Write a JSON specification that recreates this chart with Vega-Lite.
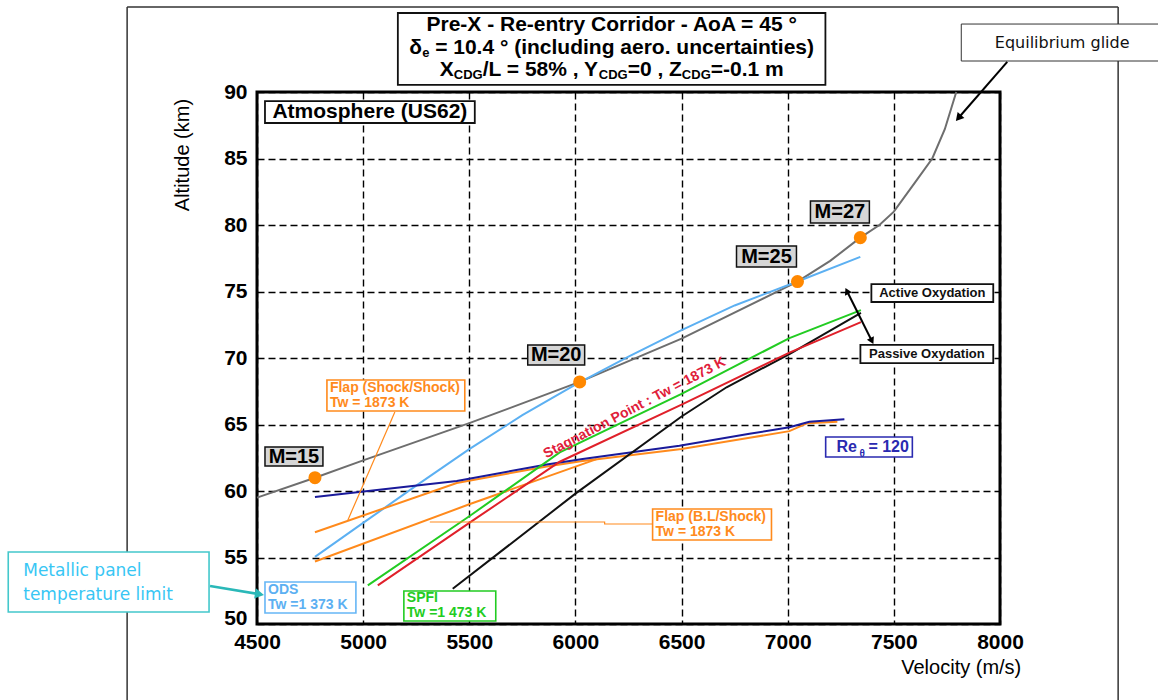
{
  "$schema": "https://vega.github.io/schema/vega-lite/v6.json",
  "width": 743,
  "height": 532,
  "autosize": {"type": "none"},
  "padding": {"left": 257, "top": 92, "right": 158, "bottom": 76},
  "background": "white",
  "config": {
    "view": {"stroke": "#000", "strokeWidth": 3},
    "text": {"font": "Liberation Sans"}
  },
  "datasets": {
    "series": [
      {"s": "glide", "c": "glide", "o": 1, "v": 4500, "alt": 59.5},
      {"s": "glide", "c": "glide", "o": 2, "v": 4773, "alt": 61.0},
      {"s": "glide", "c": "glide", "o": 3, "v": 5000, "alt": 62.3},
      {"s": "glide", "c": "glide", "o": 4, "v": 5500, "alt": 65.1},
      {"s": "glide", "c": "glide", "o": 5, "v": 6020, "alt": 68.2},
      {"s": "glide", "c": "glide", "o": 6, "v": 6500, "alt": 71.45},
      {"s": "glide", "c": "glide", "o": 7, "v": 7046, "alt": 75.75},
      {"s": "glide", "c": "glide", "o": 8, "v": 7200, "alt": 77.3},
      {"s": "glide", "c": "glide", "o": 9, "v": 7342, "alt": 79.05},
      {"s": "glide", "c": "glide", "o": 10, "v": 7432, "alt": 80.0},
      {"s": "glide", "c": "glide", "o": 11, "v": 7500, "alt": 81.0},
      {"s": "glide", "c": "glide", "o": 12, "v": 7600, "alt": 83.2},
      {"s": "glide", "c": "glide", "o": 13, "v": 7681, "alt": 85.0},
      {"s": "glide", "c": "glide", "o": 14, "v": 7740, "alt": 87.2},
      {"s": "glide", "c": "glide", "o": 15, "v": 7794, "alt": 90.0},
      {"s": "ods", "c": "ods", "o": 1, "v": 4773, "alt": 55.05},
      {"s": "ods", "c": "ods", "o": 2, "v": 5000, "alt": 57.6},
      {"s": "ods", "c": "ods", "o": 3, "v": 5250, "alt": 60.4},
      {"s": "ods", "c": "ods", "o": 4, "v": 5500, "alt": 63.15},
      {"s": "ods", "c": "ods", "o": 5, "v": 5750, "alt": 65.7},
      {"s": "ods", "c": "ods", "o": 6, "v": 6000, "alt": 68.0},
      {"s": "ods", "c": "ods", "o": 7, "v": 6250, "alt": 70.1},
      {"s": "ods", "c": "ods", "o": 8, "v": 6500, "alt": 72.1},
      {"s": "ods", "c": "ods", "o": 9, "v": 6750, "alt": 73.95},
      {"s": "ods", "c": "ods", "o": 10, "v": 7046, "alt": 75.75},
      {"s": "ods", "c": "ods", "o": 11, "v": 7342, "alt": 77.6},
      {"s": "flapA", "c": "flap", "o": 1, "v": 4773, "alt": 56.9},
      {"s": "flapA", "c": "flap", "o": 2, "v": 5441, "alt": 60.6},
      {"s": "flapA", "c": "flap", "o": 3, "v": 5865, "alt": 61.85},
      {"s": "flapA", "c": "flap", "o": 4, "v": 6034, "alt": 62.25},
      {"s": "flapA", "c": "flap", "o": 5, "v": 6500, "alt": 63.15},
      {"s": "flapA", "c": "flap", "o": 6, "v": 6820, "alt": 64.0},
      {"s": "flapA", "c": "flap", "o": 7, "v": 7008, "alt": 64.5},
      {"s": "flapA", "c": "flap", "o": 8, "v": 7093, "alt": 65.1},
      {"s": "flapA", "c": "flap", "o": 9, "v": 7234, "alt": 65.2},
      {"s": "flapB", "c": "flap", "o": 1, "v": 4773, "alt": 54.7},
      {"s": "flapB", "c": "flap", "o": 2, "v": 5500, "alt": 59.0},
      {"s": "flapB", "c": "flap", "o": 3, "v": 6100, "alt": 62.4},
      {"s": "re", "c": "re", "o": 1, "v": 4773, "alt": 59.55},
      {"s": "re", "c": "re", "o": 2, "v": 5441, "alt": 60.75},
      {"s": "re", "c": "re", "o": 3, "v": 5865, "alt": 62.0},
      {"s": "re", "c": "re", "o": 4, "v": 6034, "alt": 62.4},
      {"s": "re", "c": "re", "o": 5, "v": 6490, "alt": 63.4},
      {"s": "re", "c": "re", "o": 6, "v": 6820, "alt": 64.3},
      {"s": "re", "c": "re", "o": 7, "v": 7008, "alt": 64.8},
      {"s": "re", "c": "re", "o": 8, "v": 7102, "alt": 65.2},
      {"s": "re", "c": "re", "o": 9, "v": 7267, "alt": 65.4},
      {"s": "blk", "c": "blk", "o": 1, "v": 5422, "alt": 52.65},
      {"s": "blk", "c": "blk", "o": 2, "v": 6000, "alt": 59.8},
      {"s": "blk", "c": "blk", "o": 3, "v": 6500, "alt": 65.6},
      {"s": "blk", "c": "blk", "o": 4, "v": 6712, "alt": 67.8},
      {"s": "blk", "c": "blk", "o": 5, "v": 7008, "alt": 70.3},
      {"s": "blk", "c": "blk", "o": 6, "v": 7345, "alt": 73.4},
      {"s": "stag", "c": "stag", "o": 1, "v": 5069, "alt": 52.9},
      {"s": "stag", "c": "stag", "o": 2, "v": 5500, "alt": 57.6},
      {"s": "stag", "c": "stag", "o": 3, "v": 5926, "alt": 62.2},
      {"s": "stag", "c": "stag", "o": 4, "v": 6500, "alt": 66.5},
      {"s": "stag", "c": "stag", "o": 5, "v": 7008, "alt": 70.4},
      {"s": "stag", "c": "stag", "o": 6, "v": 7345, "alt": 72.7},
      {"s": "spfi", "c": "spfi", "o": 1, "v": 5022, "alt": 52.9},
      {"s": "spfi", "c": "spfi", "o": 2, "v": 5500, "alt": 58.1},
      {"s": "spfi", "c": "spfi", "o": 3, "v": 5926, "alt": 62.9},
      {"s": "spfi", "c": "spfi", "o": 4, "v": 6500, "alt": 67.3},
      {"s": "spfi", "c": "spfi", "o": 5, "v": 7008, "alt": 71.5},
      {"s": "spfi", "c": "spfi", "o": 6, "v": 7345, "alt": 73.6}
    ],
    "callouts": [
      {"s": "a", "o": 1, "v": 5149.4, "alt": 65.94},
      {"s": "a", "o": 2, "v": 4928.2, "alt": 57.82},
      {"s": "b", "o": 1, "v": 5314.1, "alt": 57.67},
      {"s": "b", "o": 2, "v": 6137.6, "alt": 57.67},
      {"s": "b", "o": 3, "v": 6137.6, "alt": 57.52},
      {"s": "b", "o": 4, "v": 6363.5, "alt": 57.52}
    ],
    "dots": [
      {"m": "M=15", "v": 4773, "alt": 61.0},
      {"m": "M=20", "v": 6020, "alt": 68.2},
      {"m": "M=25", "v": 7046, "alt": 75.75},
      {"m": "M=27", "v": 7342, "alt": 79.05}
    ],
    "xMinor": [
      {"v": 4600}, {"v": 4700}, {"v": 4800}, {"v": 4900},
      {"v": 5100}, {"v": 5200}, {"v": 5300}, {"v": 5400},
      {"v": 5600}, {"v": 5700}, {"v": 5800}, {"v": 5900},
      {"v": 6100}, {"v": 6200}, {"v": 6300}, {"v": 6400},
      {"v": 6600}, {"v": 6700}, {"v": 6800}, {"v": 6900},
      {"v": 7100}, {"v": 7200}, {"v": 7300}, {"v": 7400},
      {"v": 7600}, {"v": 7700}, {"v": 7800}, {"v": 7900}
    ],
    "xMajor": [
      {"v": 5000}, {"v": 5500}, {"v": 6000}, {"v": 6500}, {"v": 7000}, {"v": 7500}
    ],
    "yMinor": [
      {"alt": 51}, {"alt": 52}, {"alt": 53}, {"alt": 54},
      {"alt": 56}, {"alt": 57}, {"alt": 58}, {"alt": 59},
      {"alt": 61}, {"alt": 62}, {"alt": 63}, {"alt": 64},
      {"alt": 66}, {"alt": 67}, {"alt": 68}, {"alt": 69},
      {"alt": 71}, {"alt": 72}, {"alt": 73}, {"alt": 74},
      {"alt": 76}, {"alt": 77}, {"alt": 78}, {"alt": 79},
      {"alt": 81}, {"alt": 82}, {"alt": 83}, {"alt": 84},
      {"alt": 86}, {"alt": 87}, {"alt": 88}, {"alt": 89}
    ],
    "yMajor": [
      {"alt": 55}, {"alt": 60}, {"alt": 65}, {"alt": 70}, {"alt": 75}, {"alt": 80}, {"alt": 85}
    ],
    "frame": [
      {"v": 3888.2, "alt": 96.39, "v2": 3888.2, "alt2": 43},
      {"v": 3888.2, "alt": 96.39, "v2": 8556.5, "alt2": 96.39},
      {"v": 8556.5, "alt": 96.39, "v2": 8556.5, "alt2": 43}
    ],
    "whiteBoxes": [
      {"b": "title", "v": 5163.5, "v2": 7177.6, "alt": 95.94, "alt2": 90.53},
      {"b": "atmosphere", "v": 4537.6, "v2": 5525.9, "alt": 89.32, "alt2": 87.67},
      {"b": "active", "v": 7394.1, "v2": 7968.2, "alt": 75.56, "alt2": 74.21},
      {"b": "passive", "v": 7342.4, "v2": 7968.2, "alt": 70.98, "alt2": 69.62}
    ],
    "eqBox": [
      {"b": "equilibrium", "v": 7817.6, "v2": 8772.9, "alt": 95.11, "alt2": 92.33}
    ],
    "grayBoxes": [
      {"b": "M=15", "v": 4537.6, "v2": 4810.6, "alt": 63.31, "alt2": 61.88},
      {"b": "M=20", "v": 5775.3, "v2": 6043.5, "alt": 70.98, "alt2": 69.47},
      {"b": "M=25", "v": 6758.8, "v2": 7041.2, "alt": 78.42, "alt2": 76.84},
      {"b": "M=27", "v": 7107.1, "v2": 7384.7, "alt": 81.80, "alt2": 80.15}
    ],
    "colorBoxes": [
      {"c": "flap", "v": 4829.4, "v2": 5478.8, "alt": 68.35, "alt2": 66.01},
      {"c": "flap", "v": 6363.5, "v2": 6923.5, "alt": 58.65, "alt2": 56.32},
      {"c": "ods", "v": 4537.6, "v2": 4965.9, "alt": 53.16, "alt2": 50.83},
      {"c": "spfi", "v": 5191.8, "v2": 5624.7, "alt": 52.48, "alt2": 50.23},
      {"c": "re", "v": 7178.8, "v2": 7587.1, "alt": 64.06, "alt2": 62.56},
      {"c": "teal", "v": 3328.2, "v2": 4274.1, "alt": 55.41, "alt2": 50.90}
    ],
    "titleCenter": [
      {"t": "Pre-X - Re-entry Corridor - AoA = 45 °", "v": 6170.6, "alt": 95.04}
    ],
    "titleLeft": [
      {"t": "δ", "v": 5217.6, "alt": 93.31},
      {"t": "= 10.4 ° (including aero. uncertainties)", "v": 5339.1, "alt": 93.31},
      {"t": "X", "v": 5361.2, "alt": 91.65},
      {"t": "/L = 58% , Y", "v": 5563.1, "alt": 91.65},
      {"t": "=0 , Z", "v": 6245.9, "alt": 91.65},
      {"t": "=-0.1 m", "v": 6637.4, "alt": 91.65}
    ],
    "titleSub": [
      {"t": "e", "v": 5277.9, "alt": 92.93},
      {"t": "CDG", "v": 5427.1, "alt": 91.28},
      {"t": "CDG", "v": 6109.9, "alt": 91.28},
      {"t": "CDG", "v": 6501.4, "alt": 91.28}
    ],
    "atmText": [
      {"t": "Atmosphere (US62)", "v": 5031.8, "alt": 88.5}
    ],
    "machText": [
      {"t": "M=15", "v": 4674.1, "alt": 62.59},
      {"t": "M=20", "v": 5909.4, "alt": 70.23},
      {"t": "M=25", "v": 6900, "alt": 77.63},
      {"t": "M=27", "v": 7245.9, "alt": 80.98}
    ],
    "boxText": [
      {"c": "flap", "t": "Flap (Shock/Shock)", "v": 4843.5, "alt": 67.74},
      {"c": "flap", "t": "Tw = 1873 K", "v": 4843.5, "alt": 66.62},
      {"c": "flap", "t": "Flap (B.L/Shock)", "v": 6377.6, "alt": 58.05},
      {"c": "flap", "t": "Tw = 1873 K", "v": 6377.6, "alt": 56.92},
      {"c": "ods", "t": "ODS", "v": 4551.8, "alt": 52.56},
      {"c": "ods", "t": "Tw =1 373 K", "v": 4551.8, "alt": 51.43},
      {"c": "spfi", "t": "SPFI", "v": 5205.9, "alt": 51.95},
      {"c": "spfi", "t": "Tw =1 473 K", "v": 5205.9, "alt": 50.83}
    ],
    "oxText": [
      {"t": "Active Oxydation", "v": 7681.2, "alt": 74.89},
      {"t": "Passive Oxydation", "v": 7655.3, "alt": 70.3}
    ],
    "reText": [
      {"t": "Re", "v": 7230.0, "alt": 63.31},
      {"t": "= 120", "v": 7380.0, "alt": 63.31}
    ],
    "reSub": [
      {"t": "θ", "v": 7337.6, "alt": 62.8}
    ],
    "stagText": [
      {"t": "Stagnation Point : Tw = 1873 K", "v": 6278.8, "alt": 66.24}
    ],
    "eqText": [
      {"t": "Equilibrium glide", "v": 8292.9, "alt": 93.68}
    ],
    "metText": [
      {"t": "Metallic panel", "v": 3398.8, "alt": 53.98},
      {"t": "temperature limit", "v": 3398.8, "alt": 52.18}
    ],
    "xTitle": [
      {"t": "Velocity (m/s)", "v": 7817.6, "alt": 46.69}
    ],
    "yTitle": [
      {"t": "Altitude (km)", "v": 4151.8, "alt": 85.26}
    ],
    "arrowsK": [
      {"a": "equilibrium", "v": 8034.1, "alt": 92.26, "v2": 7808.2, "alt2": 88.12},
      {"a": "oxydation", "v": 7281.2, "alt": 74.96, "v2": 7394.1, "alt2": 71.35}
    ],
    "arrowsT": [
      {"a": "metallic", "v": 4278.8, "alt": 52.86, "v2": 4504.7, "alt2": 52.26}
    ],
    "headEq": [{"v": 7808.2, "alt": 88.12}],
    "headOxEnd": [{"v": 7394.1, "alt": 71.35}],
    "headOxStart": [{"v": 7281.2, "alt": 74.96}],
    "headMet": [{"v": 4504.7, "alt": 52.26}]
  },
  "encoding": {
    "x": {
      "field": "v", "type": "quantitative",
      "scale": {"domain": [4500, 8000], "nice": false, "zero": false},
      "axis": {
        "orient": "bottom", "title": null,
        "values": [4500, 5000, 5500, 6000, 6500, 7000, 7500, 8000],
        "format": "d", "domain": false, "ticks": false, "tickSize": 0,
        "grid": true, "gridColor": "#000", "gridWidth": 1.4, "gridDash": [7, 4],
        "labelFont": "Liberation Sans", "labelFontSize": 21, "labelFontWeight": "bold", "labelColor": "#000",
        "labelPadding": 7, "labelFlush": false, "labelOverlap": false, "labelBound": false
      }
    },
    "y": {
      "field": "alt", "type": "quantitative",
      "scale": {"domain": [50, 90], "nice": false, "zero": false},
      "axis": {
        "orient": "left", "title": null,
        "values": [50, 55, 60, 65, 70, 75, 80, 85, 90],
        "domain": false, "ticks": false, "tickSize": 0,
        "grid": true, "gridColor": "#000", "gridWidth": 1.4, "gridDash": [7, 4],
        "labelFont": "Liberation Sans", "labelFontSize": 21, "labelFontWeight": "bold", "labelColor": "#000",
        "labelOffset": {"condition": {"test": "datum.value === 50", "value": -6}, "value": 0},
        "labelPadding": 10, "labelFlush": false, "labelOverlap": false, "labelBound": false
      }
    }
  },
  "layer": [
    {
      "data": {"name": "frame"},
      "mark": {"type": "rule", "color": "#333", "strokeWidth": 1.5},
      "encoding": {"x2": {"field": "v2"}, "y2": {"field": "alt2"}}
    },
    {
      "data": {"name": "xMinor"},
      "mark": {"type": "rule", "color": "#000", "strokeWidth": 1.4},
      "encoding": {"y": {"datum": 50}, "y2": {"datum": 50.53}}
    },
    {
      "data": {"name": "xMajor"},
      "mark": {"type": "rule", "color": "#000", "strokeWidth": 1.8},
      "encoding": {"y": {"datum": 50}, "y2": {"datum": 50.98}}
    },
    {
      "data": {"name": "yMinor"},
      "mark": {"type": "rule", "color": "#000", "strokeWidth": 1.4},
      "encoding": {"x": {"datum": 4500}, "x2": {"datum": 4533}}
    },
    {
      "data": {"name": "yMajor"},
      "mark": {"type": "rule", "color": "#000", "strokeWidth": 1.8},
      "encoding": {"x": {"datum": 4500}, "x2": {"datum": 4561}}
    },
    {
      "data": {"name": "series"},
      "mark": {"type": "line", "strokeWidth": 2},
      "encoding": {
        "color": {
          "field": "c", "type": "nominal", "legend": null,
          "scale": {
            "domain": ["glide", "ods", "re", "flap", "spfi", "stag", "blk", "cyan"],
            "range": ["#6e6e6e", "#5cb0f2", "#1a1a9a", "#ff8a1c", "#22cc22", "#e0202a", "#111111", "#38c6f4"]
          }
        },
        "detail": {"field": "s"},
        "order": {"field": "o", "type": "quantitative"}
      }
    },
    {
      "data": {"name": "callouts"},
      "mark": {"type": "line", "strokeWidth": 1.2, "color": "#ff8a1c"},
      "encoding": {
        "detail": {"field": "s"},
        "order": {"field": "o", "type": "quantitative"}
      }
    },
    {
      "data": {"name": "dots"},
      "mark": {"type": "point", "filled": true, "size": 170, "color": "#ff8800", "opacity": 1}
    },
    {
      "data": {"name": "whiteBoxes"},
      "mark": {"type": "rect", "fill": "white", "stroke": "#111", "strokeWidth": 1.8},
      "encoding": {"x2": {"field": "v2"}, "y2": {"field": "alt2"}}
    },
    {
      "data": {"name": "eqBox"},
      "mark": {"type": "rect", "fill": "white", "stroke": "#333", "strokeWidth": 1},
      "encoding": {"x2": {"field": "v2"}, "y2": {"field": "alt2"}}
    },
    {
      "data": {"name": "grayBoxes"},
      "mark": {"type": "rect", "fill": "#d6d6d6", "stroke": "#111", "strokeWidth": 1.5},
      "encoding": {"x2": {"field": "v2"}, "y2": {"field": "alt2"}}
    },
    {
      "data": {"name": "colorBoxes"},
      "mark": {"type": "rect", "fill": "white", "strokeWidth": 1.6},
      "encoding": {
        "x2": {"field": "v2"}, "y2": {"field": "alt2"},
        "stroke": {
          "field": "c", "type": "nominal", "legend": null,
          "scale": {
            "domain": ["flap", "ods", "spfi", "re", "teal"],
            "range": ["#ff8a1c", "#66b6f6", "#22cc22", "#2a2ab0", "#44c8cc"]
          }
        }
      }
    },
    {
      "data": {"name": "titleCenter"},
      "mark": {"type": "text", "fontSize": 21, "fontWeight": "bold", "align": "center", "baseline": "middle", "color": "#000"},
      "encoding": {"text": {"field": "t"}}
    },
    {
      "data": {"name": "titleLeft"},
      "mark": {"type": "text", "fontSize": 21, "fontWeight": "bold", "align": "left", "baseline": "middle", "color": "#000"},
      "encoding": {"text": {"field": "t"}}
    },
    {
      "data": {"name": "titleSub"},
      "mark": {"type": "text", "fontSize": 13, "fontWeight": "bold", "align": "left", "baseline": "middle", "color": "#000"},
      "encoding": {"text": {"field": "t"}}
    },
    {
      "data": {"name": "atmText"},
      "mark": {"type": "text", "fontSize": 21, "fontWeight": "bold", "align": "center", "baseline": "middle", "color": "#000"},
      "encoding": {"text": {"field": "t"}}
    },
    {
      "data": {"name": "machText"},
      "mark": {"type": "text", "fontSize": 20, "fontWeight": "bold", "align": "center", "baseline": "middle", "color": "#000"},
      "encoding": {"text": {"field": "t"}}
    },
    {
      "data": {"name": "boxText"},
      "mark": {"type": "text", "fontSize": 14, "fontWeight": "bold", "align": "left", "baseline": "middle"},
      "encoding": {
        "text": {"field": "t"},
        "color": {
          "field": "c", "type": "nominal", "legend": null,
          "scale": {
            "domain": ["glide", "ods", "re", "flap", "spfi", "stag", "blk", "cyan"],
            "range": ["#6e6e6e", "#5cb0f2", "#1a1a9a", "#ff8a1c", "#22cc22", "#e0202a", "#111111", "#38c6f4"]
          }
        }
      }
    },
    {
      "data": {"name": "oxText"},
      "mark": {"type": "text", "fontSize": 13, "fontWeight": "bold", "align": "center", "baseline": "middle", "color": "#111"},
      "encoding": {"text": {"field": "t"}}
    },
    {
      "data": {"name": "reText"},
      "mark": {"type": "text", "fontSize": 16, "fontWeight": "bold", "align": "left", "baseline": "middle", "color": "#2a2ab0"},
      "encoding": {"text": {"field": "t"}}
    },
    {
      "data": {"name": "reSub"},
      "mark": {"type": "text", "fontSize": 10, "fontWeight": "bold", "align": "left", "baseline": "middle", "color": "#2a2ab0"},
      "encoding": {"text": {"field": "t"}}
    },
    {
      "data": {"name": "stagText"},
      "mark": {"type": "text", "fontSize": 14, "fontWeight": "bold", "align": "center", "baseline": "middle", "color": "#e0203a", "angle": 332.5},
      "encoding": {"text": {"field": "t"}}
    },
    {
      "data": {"name": "eqText"},
      "mark": {"type": "text", "font": "DejaVu Sans", "fontSize": 16, "align": "center", "baseline": "middle", "color": "#111"},
      "encoding": {"text": {"field": "t"}}
    },
    {
      "data": {"name": "metText"},
      "mark": {"type": "text", "font": "DejaVu Sans", "fontSize": 17, "align": "left", "baseline": "middle", "color": "#38c6f4"},
      "encoding": {"text": {"field": "t"}}
    },
    {
      "data": {"name": "xTitle"},
      "mark": {"type": "text", "fontSize": 20, "align": "center", "baseline": "middle", "color": "#000"},
      "encoding": {"text": {"field": "t"}}
    },
    {
      "data": {"name": "yTitle"},
      "mark": {"type": "text", "fontSize": 20, "align": "center", "baseline": "middle", "color": "#000", "angle": 270},
      "encoding": {"text": {"field": "t"}}
    },
    {
      "data": {"name": "arrowsK"},
      "mark": {"type": "rule", "color": "#000", "strokeWidth": 2},
      "encoding": {"x2": {"field": "v2"}, "y2": {"field": "alt2"}}
    },
    {
      "data": {"name": "arrowsT"},
      "mark": {"type": "rule", "color": "#2ab8b8", "strokeWidth": 2.5},
      "encoding": {"x2": {"field": "v2"}, "y2": {"field": "alt2"}}
    },
    {
      "data": {"name": "headEq"},
      "mark": {"type": "point", "shape": "triangle", "filled": true, "size": 80, "color": "#000", "opacity": 1, "angle": 221}
    },
    {
      "data": {"name": "headOxEnd"},
      "mark": {"type": "point", "shape": "triangle", "filled": true, "size": 60, "color": "#000", "opacity": 1, "angle": 153.4}
    },
    {
      "data": {"name": "headOxStart"},
      "mark": {"type": "point", "shape": "triangle", "filled": true, "size": 60, "color": "#000", "opacity": 1, "angle": 333.4}
    },
    {
      "data": {"name": "headMet"},
      "mark": {"type": "point", "shape": "triangle", "filled": true, "size": 110, "color": "#2ab8b8", "opacity": 1, "angle": 99.5}
    }
  ]
}
